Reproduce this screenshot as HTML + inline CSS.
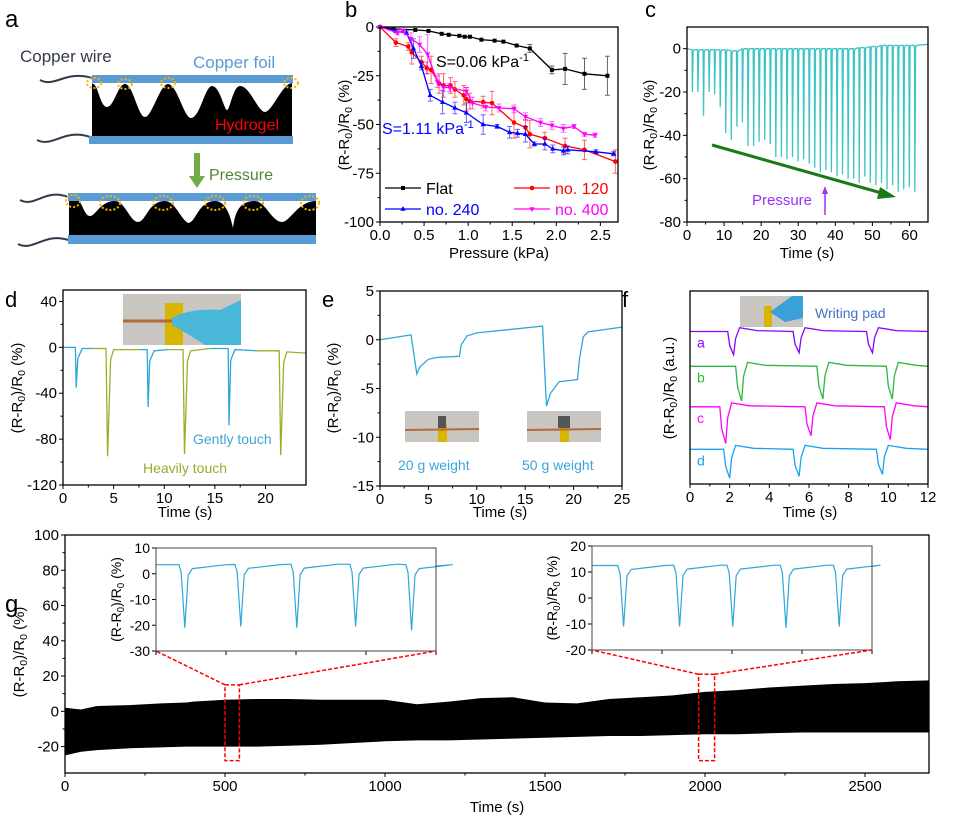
<!DOCTYPE html>
<html><head><meta charset="utf-8"><style>
html,body{margin:0;padding:0;background:#fff}
svg text{font-family:"Liberation Sans",Arial,sans-serif}
</style></head><body>
<svg id="fig" xmlns="http://www.w3.org/2000/svg" width="953" height="822" viewBox="0 0 953 822">
<g>
<text x="5" y="27" font-size="24">a</text>
<text x="20" y="62" font-size="17" fill="#333a4a">Copper wire</text>
<text x="193" y="68" font-size="17" fill="#5b9bd5">Copper foil</text>
<path d="M40,80 C55,88 65,70 92,78" stroke="#333a4a" stroke-width="2" fill="none"/>
<path d="M37,140 C52,148 65,128 90,137" stroke="#333a4a" stroke-width="2" fill="none"/>
<path d="M92,83 L93,84 C98,84 100,107 107,107 C114,107 118,84 125,84 C133,84 138,117 145,117 C152,117 160,84 168,84 C177,84 184,118 191,118 C200,118 205,86 212,86 C220,86 224,110 227,110 C230,110 233,86 240,86 C250,86 258,112 265,112 C272,112 282,84 292,83 L292,136 L92,136 Z" fill="#000"/>
<rect x="92" y="75" width="201" height="8" fill="#5b9bd5"/>
<rect x="89" y="136" width="204" height="8" fill="#5b9bd5"/>
<text x="215" y="130" font-size="16" fill="#ff0000">Hydrogel</text>
<g fill="none" stroke="#f5b400" stroke-width="2" stroke-dasharray="2,2">
<ellipse cx="94" cy="83" rx="7" ry="5"/><ellipse cx="125" cy="84" rx="7" ry="5"/><ellipse cx="168" cy="83" rx="7" ry="5"/><ellipse cx="291" cy="83" rx="7" ry="5"/>
</g>
<rect x="194" y="153" width="6" height="24" fill="#70ad47"/>
<polygon points="189,176 205,176 197,188" fill="#70ad47"/>
<text x="209" y="180" font-size="16" fill="#548235">Pressure</text>
<path d="M20,200 C35,208 45,188 68,197" stroke="#333a4a" stroke-width="2" fill="none"/>
<path d="M18,244 C33,252 45,232 68,240" stroke="#333a4a" stroke-width="2" fill="none"/>
<path d="M69,201 L78,201 C82,201 84,216 90,216 C96,216 100,201 115,201 C125,201 130,222 138,222 C146,222 148,201 165,201 C175,201 180,218 188,223 C196,223 198,201 215,201 C225,201 230,214 233,228 C235,214 238,201 255,201 C265,201 272,222 282,222 C290,222 298,201 316,201 L316,235 L69,235 Z" fill="#000"/>
<rect x="68" y="193" width="248" height="8" fill="#5b9bd5"/>
<rect x="68" y="235" width="248" height="9" fill="#5b9bd5"/>
<g fill="none" stroke="#f5b400" stroke-width="2" stroke-dasharray="2,2">
<ellipse cx="73" cy="201" rx="7" ry="6"/><ellipse cx="110" cy="203" rx="10" ry="7"/><ellipse cx="163" cy="203" rx="10" ry="7"/><ellipse cx="215" cy="203" rx="10" ry="7"/><ellipse cx="253" cy="203" rx="10" ry="7"/><ellipse cx="310" cy="203" rx="9" ry="7"/>
</g>
</g>
<g id="charts"></g>
</svg>
<script>
// ---------- Panel b data ----------
const bFlatX=[0,0.15,0.4,0.55,0.7,0.78,0.9,0.96,1.02,1.15,1.3,1.4,1.55,1.7,1.95,2.1,2.32,2.58];
const bFlatY=[0,-1,-1.5,-2,-3.5,-4,-4.5,-5,-5,-6.5,-7,-7.5,-9.5,-11,-22,-21.5,-24,-25];
const bFlatE=[0,0,0,0,0,0,0,0,0,0,0,0,0,2,2,8,8,10];
const b120X=[0,0.18,0.32,0.36,0.47,0.53,0.58,0.67,0.72,0.8,0.85,0.95,0.98,1.02,1.17,1.27,1.52,1.65,1.7,1.87,2.1,2.32,2.67];
const b120Y=[0,-8,-10,-13,-18,-21,-22,-29,-30,-30,-32,-35,-37,-38,-38.5,-39,-49,-51.5,-55,-57,-61,-63,-69];
const b120E=[0,2,2,6,3,3,7,5,6,4,4,5,6,4,3,6,8,4,7,3,4,5,6];
const b240X=[0,0.18,0.3,0.38,0.47,0.57,0.71,0.85,0.98,1.17,1.33,1.47,1.56,1.65,1.75,1.87,1.96,2.08,2.13,2.45,2.65];
const b240Y=[0,-2,-3,-11,-20,-35,-38.5,-41.5,-44,-50,-51,-54,-54.5,-55,-60,-60,-62.5,-63.5,-63,-64,-65];
const b240E=[0,1,1,5,2,3,6,3,5,5,1,3,2,4,1,3,2,2,2,1,1];
const b400X=[0,0.2,0.26,0.35,0.45,0.54,0.65,0.72,0.79,0.98,1.05,1.2,1.35,1.52,1.65,1.82,1.95,2.08,2.2,2.32,2.44];
const b400Y=[0,-3,-2,-6,-9,-14,-28,-31,-31,-33,-39,-41,-41.5,-42,-46,-49,-50.5,-52,-51,-55,-55.5];
const b400E=[0,1,1,3,4,10,3,2,2,2,3,2,2,2,2,2,2,2,1,1,1];
const bXTicks=[0,0.5,1,1.5,2,2.5], bXLabels=["0.0","0.5","1.0","1.5","2.0","2.5"];
const bYTicks=[0,-25,-50,-75,-100];
// ---------- Panel c data ----------
const cSpikeT=[1.4,2.9,4.4,5.9,7.4,8.9,10.4,11.9,13.4,14.9,16.4,17.9,19.4,20.9,22.4,23.9,25.4,26.9,28.4,29.9,31.4,32.9,34.4,35.9,37.4,38.9,40.4,41.9,43.4,44.9,46.4,47.9,49.4,50.9,52.4,53.9,55.4,56.9,58.4,59.9,61.4];
const cSpikeMin=[-20,-20,-31,-20,-21,-27,-39,-42,-36,-34,-45,-45,-43,-42,-44,-50,-50,-51,-50,-52,-51,-53,-55,-57,-56,-57,-59,-58,-60,-60,-62,-59,-62,-63,-62,-65,-63,-66,-65,-64,-66];
const cBase=[-0.5,-0.5,-0.5,-0.5,-0.5,-0.5,-0.5,-1,-1,0,0,0,0,0,0,0,0,0,0,0,0,0,0,0,0,0,0,0,0,0,0.5,0.5,1,1,1.5,1.5,1.5,1.5,1.5,1.5,1.5];
const cXTicks=[0,10,20,30,40,50,60], cYTicks=[0,-20,-40,-60,-80];
// ---------- Panel d data ----------
const dSpikeT=[1.3,4.4,8.4,12.0,16.4,21.5];
const dSpikeMin=[-35,-95,-52,-93,-68,-94];
const dSpikeType=["gentle","heavy","gentle","heavy","gentle","heavy"];
const dSegStart=[0,2.9,7.6,10.4,14.5,19.2];
const dSegEnd=[2.9,7.6,10.4,14.5,19.2,24];
const dBase=[0,-1,-2,-2,-1,-3];
const dXTicks=[0,5,10,15,20], dYTicks=[40,0,-40,-80,-120];
// ---------- Panel e data ----------
const eT=[0,3.2,3.5,3.8,4.1,5,6,8.2,8.4,9,10,16.8,17.0,17.2,17.6,18.5,20.4,20.6,21,21.5,25];
const eV=[0,0.5,-1.5,-3.5,-2.8,-2,-1.8,-1.7,-0.5,0.4,0.7,1.4,-3,-6.8,-5.5,-4.3,-4.1,-2,0.3,0.8,1.3];
const eXTicks=[0,5,10,15,20,25], eYTicks=[5,0,-5,-10,-15];
// ---------- Panel f data ----------
const fLabels=["a","b","c","d"];
const fBase=[7.9,6.1,4.0,1.8];
const fDipStart=[[1.9,5.2,8.9],[2.3,6.4,9.9],[1.5,5.8,9.8],[1.7,5.2,9.4]];
const fDipMin=[[6.7,6.8,6.8],[4.3,4.4,4.4],[2.1,2.5,2.3],[0.3,0.4,0.5]];
const fXTicks=[0,2,4,6,8,10,12];
// ---------- Panel g data ----------
const gT=[0,50,100,200,300,380,400,500,600,700,800,900,1000,1100,1200,1300,1400,1500,1600,1700,1800,1900,2000,2100,2200,2300,2400,2500,2600,2700];
const gUpper=[2,1,3,3.5,4.5,5,5.5,6.5,7,7,6.5,6.5,6.5,4,5.5,7.5,8,5,4.5,7,8,9,11,12,13.5,14.5,15.5,16,17,17.5];
const gLower=[-25,-23,-22,-21,-20.5,-20,-20,-20,-20,-19.5,-19,-18,-17,-16.5,-16.5,-16,-15.5,-15,-14.5,-14,-14,-13.5,-13,-13,-12.5,-12,-12,-12,-12,-12];
const gXTicks=[0,500,1000,1500,2000,2500], gYTicks=[100,80,60,40,20,0,-20];
const g1SpikeT=[9,29,49,70,90], g1SpikeMin=[-21,-20.5,-21,-20.5,-22], g1Base=[3.5,3.6,3.7,3.7,3.5];
const g2SpikeT=[10,30,49,68,87], g2SpikeMin=[-11,-11,-11,-11.5,-11], g2Base=[12.5,12.6,12.6,12.6,12.6];
const g1YTicks=[10,0,-10,-20,-30], g2YTicks=[20,10,0,-10,-20];

const NS="http://www.w3.org/2000/svg";
const root=document.getElementById('charts');
function mk(tag,attrs,parent,name,text){
  const e=document.createElementNS(NS,tag);
  for(const k in attrs) e.setAttribute(k,attrs[k]);
  
  
  if(text!==undefined) e.textContent=text;
  (parent||root).appendChild(e);return e;
}
function axes(o){
  const g=mk('g',{},root,o.name);
  const X=v=>o.x0+(v-o.xd[0])/(o.xd[1]-o.xd[0])*(o.x1-o.x0);
  const Y=v=>o.y1-(v-o.yd[0])/(o.yd[1]-o.yd[0])*(o.y1-o.y0);
  const fs=o.fs||15;
  (o.xt||[]).forEach((t,i)=>{
    mk('line',{x1:X(t),x2:X(t),y1:o.y1,y2:o.y1+4,stroke:'#000','stroke-width':1},g,'x-tick');
    if(!o.noXLab) mk('text',{x:X(t),y:o.y1+18,'font-size':fs,'text-anchor':'middle'},g,'x-tick-label',o.xl?o.xl[i]:String(t));
    if(i<o.xt.length-1 && o.minor!==false) mk('line',{x1:(X(t)+X(o.xt[i+1]))/2,x2:(X(t)+X(o.xt[i+1]))/2,y1:o.y1,y2:o.y1+2.5,stroke:'#000','stroke-width':1},g,'x-minor-tick');
  });
  (o.yt||[]).forEach((t,i)=>{
    mk('line',{x1:o.x0-4,x2:o.x0,y1:Y(t),y2:Y(t),stroke:'#000','stroke-width':1},g,'y-tick');
    if(!o.noYLab) mk('text',{x:o.x0-6,y:Y(t)+5,'font-size':fs,'text-anchor':'end'},g,'y-tick-label',String(t));
    if(i<o.yt.length-1 && o.minor!==false) mk('line',{x1:o.x0-2.5,x2:o.x0,y1:(Y(t)+Y(o.yt[i+1]))/2,y2:(Y(t)+Y(o.yt[i+1]))/2,stroke:'#000','stroke-width':1},g,'y-minor-tick');
  });
  return {X,Y,g};
}
function frame(o){mk('rect',{x:o.x0,y:o.y0,width:o.x1-o.x0,height:o.y1-o.y0,fill:'none',stroke:o.fc||'#000','stroke-width':o.fw||1.3},root,o.name+'-frame');}
function ytitle(x,cy,fs,unit,name){
  const t=mk('text',{x:0,y:0,'font-size':fs,'text-anchor':'middle',transform:`translate(${x},${cy}) rotate(-90)`},root,name);
  const s=fs*0.7;
  t.innerHTML=`(R-R<tspan dy="3" font-size="${s}">0</tspan><tspan dy="-3">)/R</tspan><tspan dy="3" font-size="${s}">0</tspan><tspan dy="-3"> (${unit})</tspan>`;
  return t;
}
function path(pts,X,Y){return pts.map((p,i)=>(i?'L':'M')+X(p[0]).toFixed(1)+','+Y(p[1]).toFixed(1)).join('');}

// ===== Panel b =====
{
const o={name:'panel-b',x0:380,x1:618,y0:27,y1:222,xd:[0,2.7],yd:[-100,0],xt:bXTicks,xl:bXLabels,yt:bYTicks,fs:15};
const {X,Y}=axes(o);
const series=[[bFlatX,bFlatY,bFlatE,'#000','flat','sq'],[b120X,b120Y,b120E,'#ff0000','no-120','ci'],[b240X,b240Y,b240E,'#0000ff','no-240','tu'],[b400X,b400Y,b400E,'#ff00ff','no-400','td']];
series.forEach(([xs,ys,es,c,n,m])=>{
  const pts=xs.map((x,i)=>[x,ys[i]]);
  mk('path',{d:path(pts,X,Y),stroke:c,fill:'none','stroke-width':1.3},root,'line-'+n);
  xs.forEach((x,i)=>{
    if(es[i]>0){mk('path',{d:`M${X(x)},${Y(ys[i]+es[i])}V${Y(ys[i]-es[i])}M${X(x)-2.5},${Y(ys[i]+es[i])}h5M${X(x)-2.5},${Y(ys[i]-es[i])}h5`,stroke:c,'stroke-opacity':0.6,fill:'none'},root,'errorbar-'+n);}
    const px=X(x),py=Y(ys[i]);
    if(m==='sq') mk('rect',{x:px-2,y:py-2,width:4,height:4,fill:c},root,'marker-'+n);
    else if(m==='ci') mk('circle',{cx:px,cy:py,r:2.3,fill:c},root,'marker-'+n);
    else if(m==='tu') mk('polygon',{points:`${px},${py-3} ${px-2.6},${py+1.8} ${px+2.6},${py+1.8}`,fill:c},root,'marker-'+n);
    else mk('polygon',{points:`${px},${py+3} ${px-2.6},${py-1.8} ${px+2.6},${py-1.8}`,fill:c},root,'marker-'+n);
  });
});
frame(o);
mk('text',{x:345,y:17,'font-size':22},root,'panel-label-b','b');
ytitle(349,125,15,'%','y-axis-title-b');
mk('text',{x:499,y:258,'font-size':15,'text-anchor':'middle'},root,'x-axis-title-b','Pressure (kPa)');
const t1=mk('text',{x:436,y:67,'font-size':16},root,'sensitivity-flat');t1.innerHTML='S=0.06 kPa<tspan dy="-6" font-size="11">-1</tspan>';
const t2=mk('text',{x:382,y:134,'font-size':16,fill:'#0000ff'},root,'sensitivity-240');t2.innerHTML='S=1.11 kPa<tspan dy="-6" font-size="11">-1</tspan>';
const leg=[['Flat','#000',385,188,'sq'],['no. 120','#ff0000',514,188,'ci'],['no. 240','#0000ff',385,209,'tu'],['no. 400','#ff00ff',514,209,'td']];
leg.forEach(([t,c,x,y,m])=>{
  mk('line',{x1:x,x2:x+36,y1:y,y2:y,stroke:c,'stroke-width':1.3},root,'legend-line');
  if(m==='sq') mk('rect',{x:x+16,y:y-2,width:4,height:4,fill:c},root,'legend-marker');
  else if(m==='ci') mk('circle',{cx:x+18,cy:y,r:2.3,fill:c},root,'legend-marker');
  else if(m==='tu') mk('polygon',{points:`${x+18},${y-3} ${x+15.4},${y+1.8} ${x+20.6},${y+1.8}`,fill:c},root,'legend-marker');
  else mk('polygon',{points:`${x+18},${y+3} ${x+15.4},${y-1.8} ${x+20.6},${y-1.8}`,fill:c},root,'legend-marker');
  mk('text',{x:x+41,y:y+6,'font-size':16,fill:c},root,'legend-entry',t);
});
}
// ===== Panel c =====
{
const o={name:'panel-c',x0:687,x1:928,y0:27,y1:222,xd:[0,65],yd:[-80,10],xt:cXTicks,yt:cYTicks,fs:15};
const {X,Y}=axes(o);
const pts=[[0,0]];
cSpikeT.forEach((t,i)=>{const b=cBase[i];pts.push([t-0.05,b],[t+0.05,cSpikeMin[i]],[t+0.25,b-1],[t+0.5,b]);});
pts.push([65,2]);
mk('path',{d:path(pts,X,Y),stroke:'#3ec4c4',fill:'none','stroke-width':1.3},root,'line-c');
frame(o);
mk('text',{x:645,y:17,'font-size':22},root,'panel-label-c','c');
ytitle(654,125,15,'%','y-axis-title-c');
mk('text',{x:807,y:258,'font-size':15,'text-anchor':'middle'},root,'x-axis-title-c','Time (s)');
mk('line',{x1:712,y1:145,x2:885,y2:194,stroke:'#1a7a1a','stroke-width':3},root,'trend-arrow');
mk('polygon',{points:'896,197 880,187 877,199',fill:'#1a7a1a'},root,'trend-arrowhead');
mk('line',{x1:825,y1:215,x2:825,y2:192,stroke:'#9b30ff','stroke-width':1.5},root,'pressure-arrow');
mk('polygon',{points:'825,186 822,194 828,194',fill:'#9b30ff'},root,'pressure-arrowhead');
mk('text',{x:752,y:205,'font-size':15,fill:'#9b30ff'},root,'pressure-label-c','Pressure');
}
// ===== Panel d =====
{
const o={name:'panel-d',x0:63,x1:306,y0:290,y1:485,xd:[0,24],yd:[-120,50],xt:dXTicks,yt:dYTicks,fs:15};
const {X,Y}=axes(o);
dSpikeT.forEach((t,i)=>{
  const c=dSpikeType[i]==='gentle'?'#2ea7d8':'#9cae26';
  const b=dBase[i], nb=i<dBase.length-1?dBase[i+1]:-5;
  const w=dSpikeType[i]==='gentle'?0.08:0.15;
  const pts=[[dSegStart[i],b],[t-w,b],[t,dSpikeMin[i]],[t+w*2,b-10],[t+0.6,b-1],[dSegEnd[i],nb]];
  mk('path',{d:path(pts,X,Y),stroke:c,fill:'none','stroke-width':1.3},root,'line-d-'+dSpikeType[i]);
});
frame(o);
mk('rect',{x:123,y:294,width:118,height:51,fill:'#c9c6c2'},root,'photo-touch');
mk('rect',{x:165,y:303,width:18,height:42,fill:'#d9b400'},root,'photo-tape');
mk('line',{x1:123,y1:321,x2:241,y2:321,stroke:'#b5683c','stroke-width':3},root,'photo-wire');
mk('path',{d:'M172,318 Q190,308 220,310 L241,300 L241,345 L205,345 Q185,332 172,325 Z',fill:'#49b7d8'},root,'photo-glove');
mk('text',{x:5,y:307,'font-size':22},root,'panel-label-d','d');
ytitle(22,388,15,'%','y-axis-title-d');
mk('text',{x:185,y:517,'font-size':15,'text-anchor':'middle'},root,'x-axis-title-d','Time (s)');
mk('text',{x:193,y:444,'font-size':14,fill:'#3aa6d9'},root,'gently-touch-label','Gently touch');
mk('text',{x:143,y:473,'font-size':14,fill:'#9aab2a'},root,'heavily-touch-label','Heavily touch');
}
// ===== Panel e =====
{
const o={name:'panel-e',x0:380,x1:622,y0:291,y1:486,xd:[0,25],yd:[-15,5],xt:eXTicks,yt:eYTicks,fs:15};
const {X,Y}=axes(o);
mk('path',{d:path(eT.map((t,i)=>[t,eV[i]]),X,Y),stroke:'#2ea7d8',fill:'none','stroke-width':1.3},root,'line-e');
frame(o);
[[405,'photo-20g',4],[527,'photo-50g',6]].forEach(([x,n,w])=>{
  mk('rect',{x:x,y:411,width:74,height:31,fill:'#c9c6c2'},root,n);
  mk('rect',{x:x+33,y:423,width:9,height:19,fill:'#d9b400'},root,n+'-tape');
  mk('line',{x1:x,y1:430,x2:x+74,y2:429,stroke:'#b5683c','stroke-width':2},root,n+'-wire');
  mk('rect',{x:x+37-w,y:416,width:w*2,height:12,fill:'#555'},root,n+'-weight');
});
mk('text',{x:322,y:307,'font-size':22},root,'panel-label-e','e');
ytitle(338,388,15,'%','y-axis-title-e');
mk('text',{x:500,y:517,'font-size':15,'text-anchor':'middle'},root,'x-axis-title-e','Time (s)');
mk('text',{x:398,y:470,'font-size':14,fill:'#3aa6d9'},root,'label-20g','20 g weight');
mk('text',{x:522,y:470,'font-size':14,fill:'#3aa6d9'},root,'label-50g','50 g weight');
}
// ===== Panel f =====
{
const o={name:'panel-f',x0:690,x1:928,y0:291,y1:484,xd:[0,12],yd:[0,10],xt:fXTicks,yt:[],fs:15};
const {X,Y}=axes(o);
const cols=['#8b00ff','#2db83d','#ff00ff','#1aa3ec'];
fBase.forEach((b,k)=>{
  const pts=[[0,b]];
  fDipStart[k].forEach((s,j)=>{const m=fDipMin[k][j];pts.push([s,b],[s+0.1,b-(b-m)*0.6],[s+0.3,m],[s+0.4,b-(b-m)*0.3],[s+0.6,b+0.2],[s+1.5,b+0.05]);});
  pts.push([12,b]);
  mk('path',{d:path(pts,X,Y),stroke:cols[k],fill:'none','stroke-width':1.3},root,'trace-'+fLabels[k]);
  mk('text',{x:697,y:Y(b)+16,'font-size':14,fill:cols[k]},root,'trace-label-'+fLabels[k],fLabels[k]);
});
frame(o);
mk('rect',{x:740,y:296,width:63,height:31,fill:'#c9c6c2'},root,'photo-writing');
mk('rect',{x:764,y:306,width:8,height:21,fill:'#d9b400'},root,'photo-writing-tape');
mk('path',{d:'M770,312 L792,296 L803,296 L803,318 L785,322 Z',fill:'#3aa0d8'},root,'photo-writing-glove');
mk('text',{x:815,y:318,'font-size':14,fill:'#4472c4'},root,'writing-pad-label','Writing pad');
mk('text',{x:622,y:307,'font-size':22},root,'panel-label-f','f');
ytitle(674,388,15,'a.u.','y-axis-title-f');
mk('text',{x:810,y:517,'font-size':15,'text-anchor':'middle'},root,'x-axis-title-f','Time (s)');
}
// ===== Panel g =====
{
const o={name:'panel-g',x0:65,x1:929,y0:535,y1:773,xd:[0,2700],yd:[-35,100],xt:gXTicks,yt:gYTicks,fs:15};
const {X,Y}=axes(o);
const band=gT.map((t,i)=>[t,gUpper[i]]).concat(gT.map((t,i)=>[t,gLower[i]]).reverse());
mk('path',{d:path(band,X,Y)+'Z',fill:'#000'},root,'cycling-band');
frame(o);
mk('text',{x:5,y:612,'font-size':24},root,'panel-label-g','g');
ytitle(24,652,15,'%','y-axis-title-g');
mk('text',{x:497,y:812,'font-size':15,'text-anchor':'middle'},root,'x-axis-title-g','Time (s)');
const insets=[{x0:156,x1:436,y0:548,y1:651,yd:[-30,10],yt:g1YTicks,T:g1SpikeT,M:g1SpikeMin,B:g1Base,rb:[500,545,15,-28],n:'inset-1'},
              {x0:592,x1:872,y0:546,y1:650,yd:[-20,20],yt:g2YTicks,T:g2SpikeT,M:g2SpikeMin,B:g2Base,rb:[1980,2030,21,-28],n:'inset-2'}];
insets.forEach(s=>{
  const io={name:s.n,x0:s.x0,x1:s.x1,y0:s.y0,y1:s.y1,xd:[0,100],yd:s.yd,xt:[0,25,50,75,100],yt:s.yt,fs:14,noXLab:true,minor:false};
  mk('rect',{x:s.x0,y:s.y0,width:s.x1-s.x0,height:s.y1-s.y0,fill:'#fff'},root,s.n+'-bg');
  const A=axes(io);
  const pts=[[0,s.B[0]]];
  s.T.forEach((t,i)=>{const b=s.B[i];pts.push([t-0.8,b],[t,b-3],[t+1.3,s.M[i]],[t+2.5,b-4],[t+4,b-1.5],[t+16,b]);});
  pts.push([100,s.B[s.B.length-1]-0.5]);
  mk('path',{d:path(pts,A.X,A.Y),stroke:'#2ea7d8',fill:'none','stroke-width':1.2},root,s.n+'-line');
  frame({name:s.n,x0:s.x0,x1:s.x1,y0:s.y0,y1:s.y1,fc:'#444',fw:1});
  ytitle(s.x0-35,(s.y0+s.y1)/2,14,'%',s.n+'-y-title');
  const [a,b,top,bot]=s.rb;
  mk('rect',{x:X(a),y:Y(top),width:X(b)-X(a),height:Y(bot)-Y(top),fill:'none',stroke:'#ff0000','stroke-width':1.5,'stroke-dasharray':'4,2'},root,s.n+'-zoom-box');
  mk('path',{d:`M${X(a)},${Y(top)}L${s.x0},${s.y1}M${X(b)},${Y(top)}L${s.x1},${s.y1}`,fill:'none',stroke:'#ff0000','stroke-width':1.5,'stroke-dasharray':'4,2'},root,s.n+'-zoom-lines');
});
}
</script>
</body></html>
